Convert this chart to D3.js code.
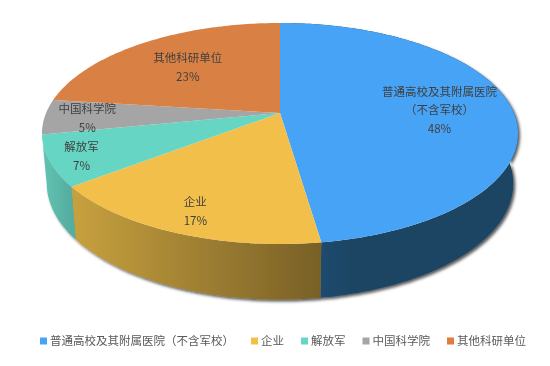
<!DOCTYPE html>
<html>
<head>
<meta charset="utf-8">
<script src="https://cdn.jsdelivr.net/npm/d3@7"></script>
<style>
  html, body { margin: 0; padding: 0; background: #fff; }
  svg { display: block; filter: blur(0.5px); }
  text { font-family: "Noto Sans CJK SC", "Noto Sans", sans-serif; font-size: 11.5px; }
</style>
</head>
<body>
<div id="chart"></div>
<script>
// data
const categories = ['普通高校及其附属医院（不含军校）', '企业', '解放军', '中国科学院', '其他科研单位'];
const shares = [47.7, 16.8, 7.4, 5.1, 23.0];
// the first label breaks over two lines
const labelLines = [['普通高校及其附属医院', '（不含军校）'], ['企业'], ['解放军'], ['中国科学院'], ['其他科研单位']];

const width = 550; const height = 366;

const topColors = ['#47a3f5', '#f2bf4a', '#66d5c3', '#a5a5a5', '#d98145'];
const legendColors = ['#47a3f5', '#f2bf4a', '#66d5c3', '#a5a5a5', '#e07d3e'];
// left and right colour of each side wall, the last two face away from the viewer
const wallColors = [['#25547f', '#1b4563'], ['#c8a13e', '#786027'], ['#62c4b4', '#55ad9f']];
// how far out along the slice each label sits
const labelRadius = [0.69, 0.83, 0.87, 0.82, 0.65];

// perspective of the disc, top face and bottom face
const centerX = 280; const centerY = 113;
const radiusX = 233.9; const radiusY = 106.7; const persp = 0.1855;
const bottomScaleX = 0.98; const bottomScaleY = 1.05; const bottomDrop = 49;

function project(angle, r, scaleX, scaleY, drop) {
    const u = Math.sin(angle) * r;
    const v = -Math.cos(angle) * r;
    const w = 1 - persp * v;
    return [centerX + scaleX * radiusX * u / w, centerY + drop + scaleY * radiusY * v / w];
}
const topPoint = (a, r = 1) => project(a, r, 1, 1, 0);
const bottomPoint = (a) => project(a, 1, bottomScaleX, bottomScaleY, bottomDrop);

function arcAngles(d) {
    const n = Math.ceil((d.endAngle - d.startAngle) * 60);
    return d3.range(n + 1).map(i => d.startAngle + (d.endAngle - d.startAngle) * i / n);
}

const line = d3.line().curve(d3.curveLinear);
const slices = d3.pie().sort(null).value(d => d)(shares);
const frontSlices = slices.slice(0, wallColors.length);

const svg = d3.select('#chart')
    .append('svg')
        .attr('width', width)
        .attr('height', height);

const defs = svg.append('defs');
const shadow = defs.append('filter')
    .attr('id', 'wallShadow')
    .attr('x', '-10%').attr('y', '-10%')
    .attr('width', '120%').attr('height', '120%');
shadow.append('feDropShadow')
    .attr('dx', 2).attr('dy', 2)
    .attr('stdDeviation', 1.6)
    .attr('flood-color', '#000')
    .attr('flood-opacity', 0.65);

// one horizontal gradient per wall, spanning that wall only
frontSlices.forEach((d, i) => {
    const xs = arcAngles(d).map(a => topPoint(a)[0]);
    const grad = defs.append('linearGradient')
        .attr('id', 'wall' + i)
        .attr('gradientUnits', 'userSpaceOnUse')
        .attr('x1', d3.min(xs)).attr('x2', i === 0 ? d3.min(xs) + 70 : d3.max(xs))
        .attr('y1', 0).attr('y2', 0);
    grad.append('stop').attr('offset', 0).attr('stop-color', wallColors[i][0]);
    grad.append('stop').attr('offset', 1).attr('stop-color', wallColors[i][1]);
});

// side walls first, the top face covers whatever is behind
svg.append('g')
    .attr('filter', 'url(#wallShadow)')
  .selectAll('path')
    .data(frontSlices)
    .join('path')
        .attr('d', d => {
            const angles = arcAngles(d);
            return line(angles.map(a => topPoint(a)).concat(angles.slice().reverse().map(bottomPoint))) + 'Z';
        })
        .attr('fill', (d, i) => `url(#wall${i})`);

svg.append('g')
  .selectAll('path')
    .data(slices)
    .join('path')
        .attr('d', d => line([[centerX, centerY]].concat(arcAngles(d).map(a => topPoint(a)))) + 'Z')
        .attr('fill', (d, i) => topColors[i]);

// data labels
const labels = svg.append('g')
  .selectAll('text')
    .data(slices)
    .join('text')
        .attr('text-anchor', 'middle')
        .attr('fill', '#404040')
        .attr('transform', (d, i) => {
            const p = topPoint((d.startAngle + d.endAngle) / 2, labelRadius[i]);
            const rows = labelLines[i].length + 1;
            return `translate(${p[0]}, ${p[1] - (rows - 1) * 9.35 + 6.5})`;
        });
labels.each(function(d, i) {
    const rows = labelLines[i].concat([Math.round(shares[i]) + '%']);
    d3.select(this).selectAll('tspan')
        .data(rows)
        .join('tspan')
            .attr('x', 0)
            .attr('y', (r, j) => j * 18.7)
            .text(r => r);
});

// legend, each entry starts where the one before ended
let legendX = 40;
const legendY = 341;
const legend = svg.append('g');
categories.forEach((name, i) => {
    legend.append('rect')
        .attr('x', legendX)
        .attr('y', legendY - 3.5)
        .attr('width', 7)
        .attr('height', 7)
        .attr('fill', legendColors[i]);
    const t = legend.append('text')
        .attr('x', legendX + 10)
        .attr('y', legendY + 4)
        .attr('fill', '#595959')
        .text(name);
    legendX += 10 + t.node().getComputedTextLength() + 17;
});
</script>
</body>
</html>
